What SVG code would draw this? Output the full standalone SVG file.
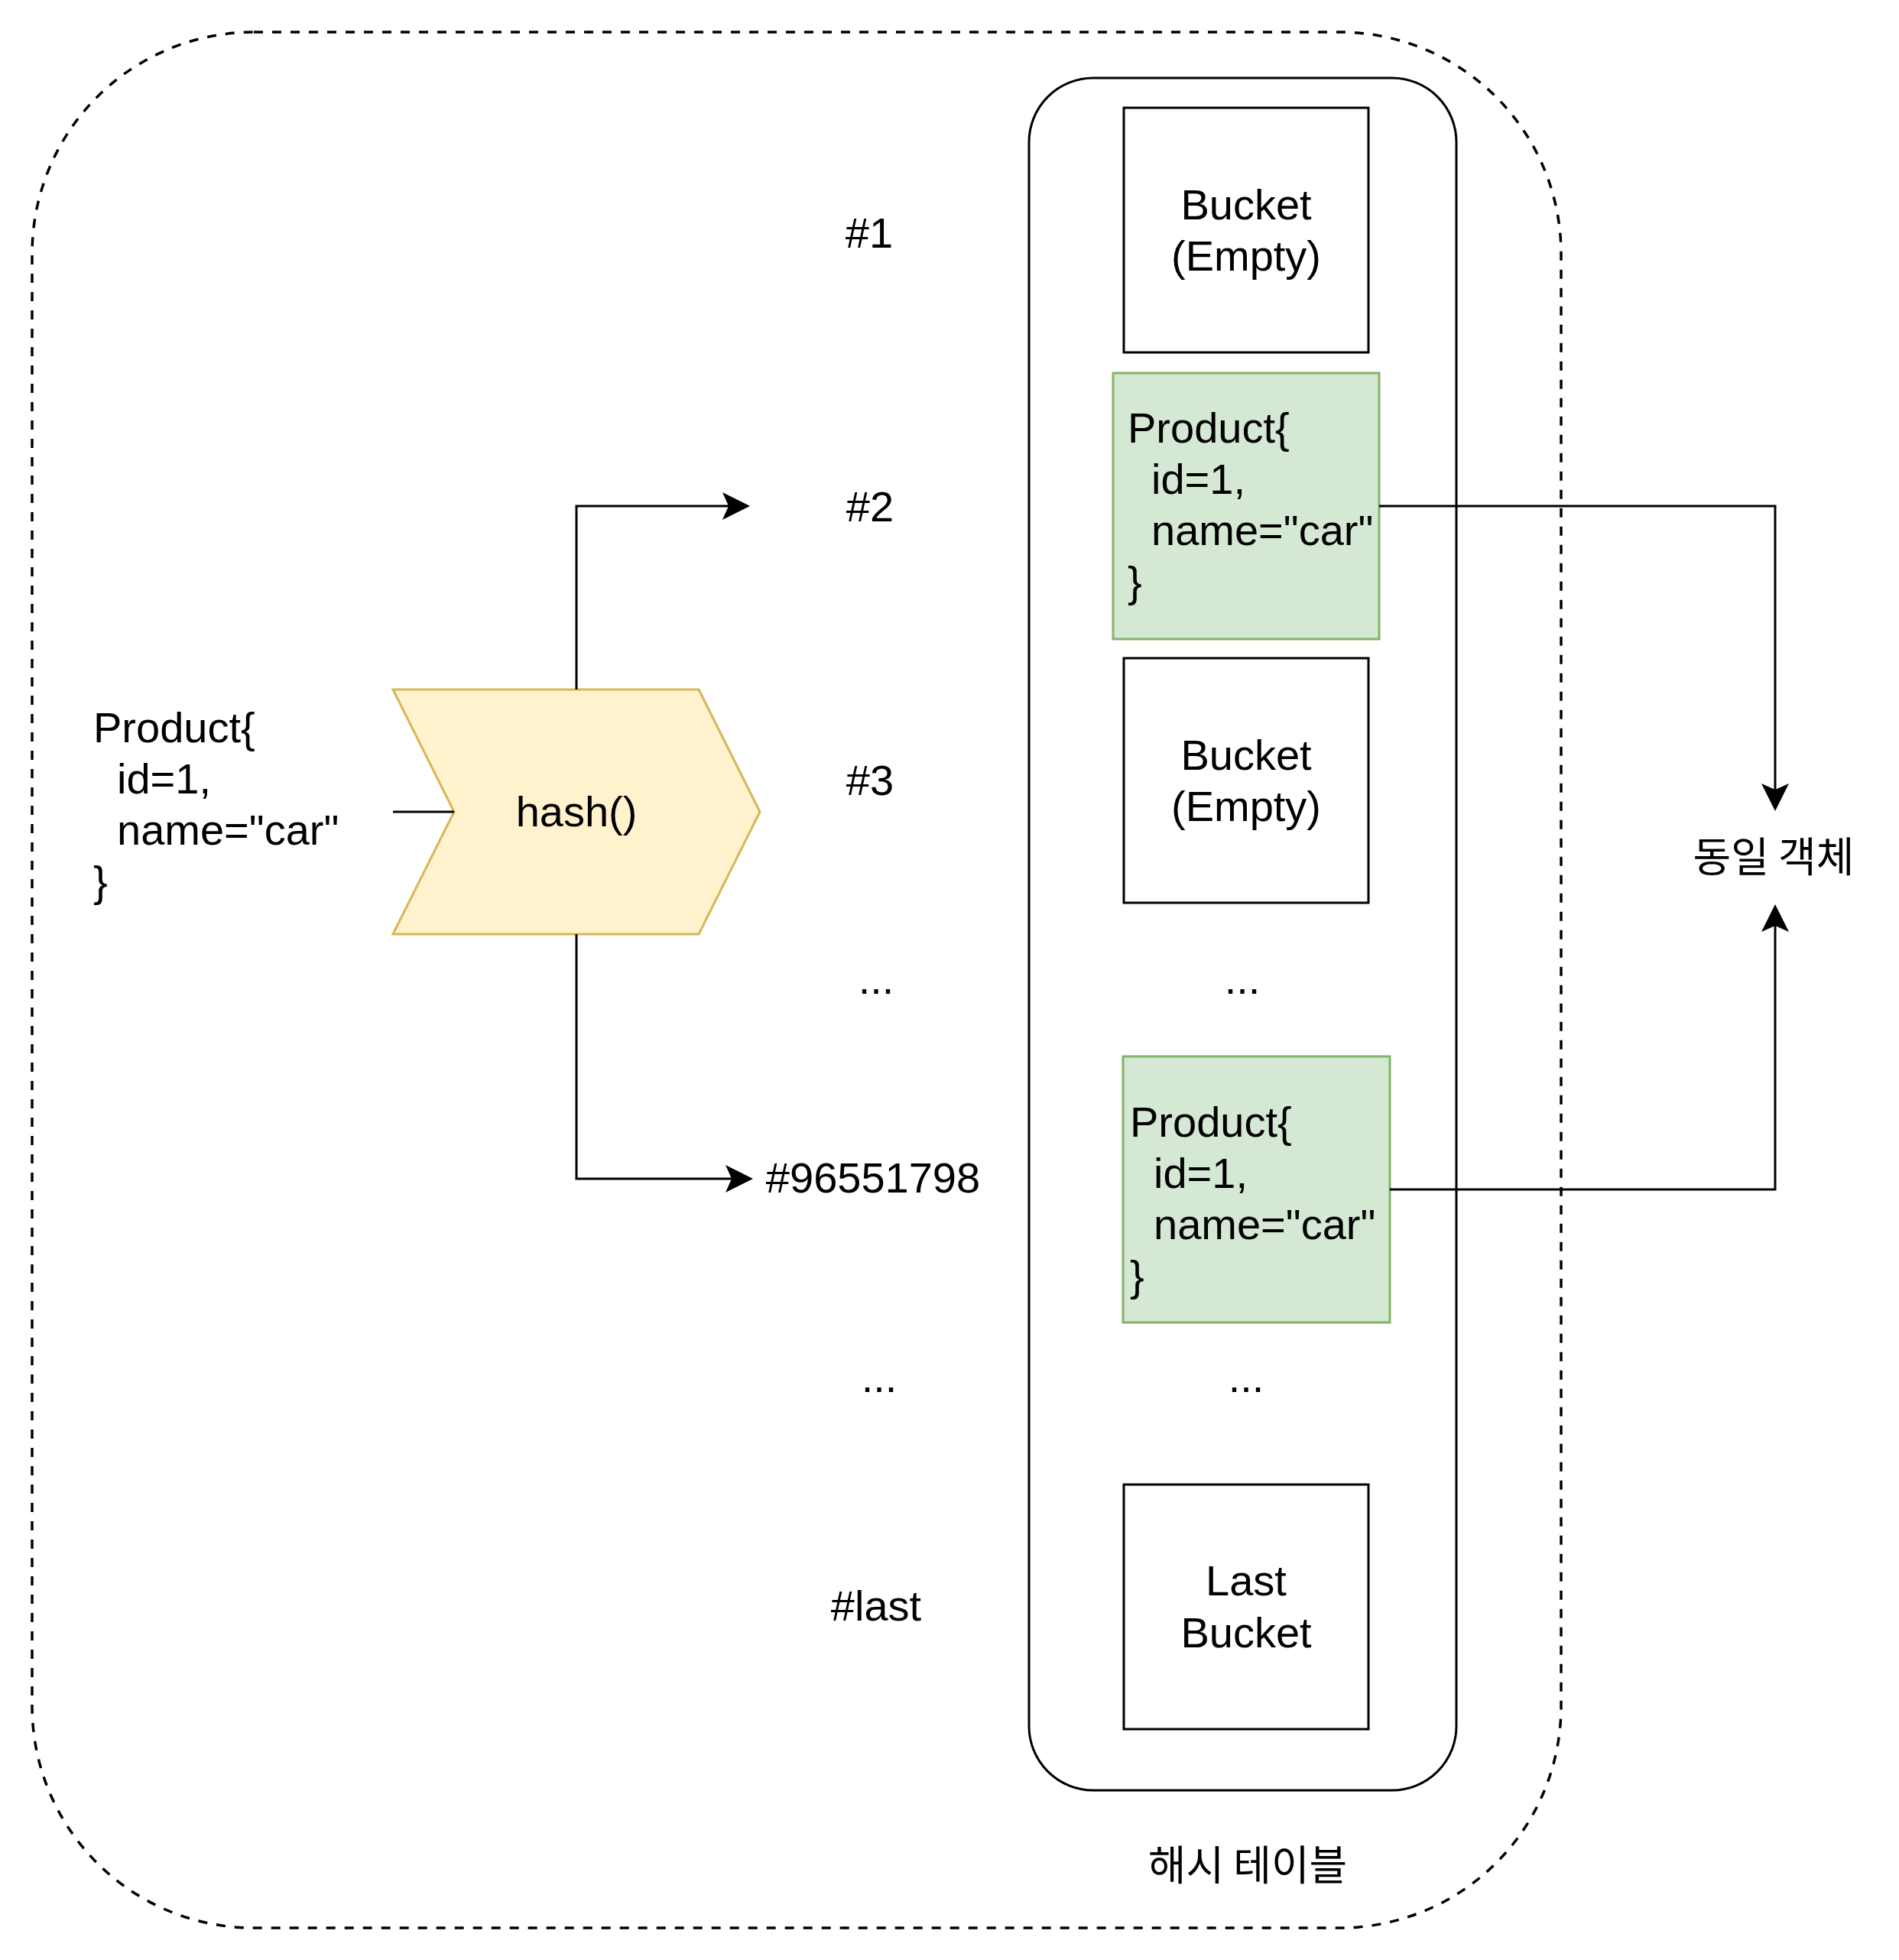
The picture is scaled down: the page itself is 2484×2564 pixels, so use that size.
<svg xmlns="http://www.w3.org/2000/svg" width="2484" height="2564" viewBox="0 0 2484 2564">
<defs>
<marker id="arr" viewBox="0 0 36 36" refX="8" refY="18" markerWidth="36" markerHeight="36" markerUnits="userSpaceOnUse" orient="auto">
<path d="M0,0 L36,18 L0,36 L8,18 Z" fill="#000"/>
</marker>
<style>
.t{font-family:"Liberation Sans",Arial,Helvetica,sans-serif;font-size:56px;fill:#000}
.c{text-anchor:middle}
.k{font-family:"Noto Sans CJK KR","Liberation Sans",sans-serif;font-size:54px;fill:#000;text-anchor:middle}
.box{fill:#fff;stroke:#000;stroke-width:3}
.green{fill:#d5e8d4;stroke:#82b366;stroke-width:3}
.edge{fill:none;stroke:#000;stroke-width:3}
</style>
</defs>
<rect width="2484" height="2564" fill="#fff"/>
<g id="outer">
<rect x="42" y="42" width="2000" height="2480" rx="290" ry="290" fill="none" stroke="#000" stroke-width="3.5" stroke-dasharray="12 12"/>
</g>
<g id="hashtable">
<rect x="1346" y="102" width="559" height="2240" rx="84" ry="84" class="box"/>
<text class="k" x="1632" y="2460">해시 테이블</text>
</g>
<g id="bucket1">
<rect x="1470" y="141" width="320" height="320" class="box"/>
<text class="t c" x="1630" y="287">Bucket</text>
<text class="t c" x="1630" y="354">(Empty)</text>
</g>
<g id="bucket2">
<rect x="1456" y="488" width="348" height="348" class="green"/>
<text class="t" x="1475" y="579">Product{</text>
<text class="t" x="1506" y="646">id=1,</text>
<text class="t" x="1506" y="713">name="car"</text>
<text class="t" x="1475" y="780">}</text>
</g>
<g id="bucket3">
<rect x="1470" y="861" width="320" height="320" class="box"/>
<text class="t c" x="1630" y="1007">Bucket</text>
<text class="t c" x="1630" y="1074">(Empty)</text>
</g>
<g id="dots1">
<text class="t c" x="1625" y="1300">...</text>
</g>
<g id="bucketN">
<rect x="1469" y="1382" width="349" height="348" class="green"/>
<text class="t" x="1478" y="1487">Product{</text>
<text class="t" x="1509" y="1554">id=1,</text>
<text class="t" x="1509" y="1621">name="car"</text>
<text class="t" x="1478" y="1688">}</text>
</g>
<g id="dots2">
<text class="t c" x="1630" y="1821">...</text>
</g>
<g id="bucketLast">
<rect x="1470" y="1942" width="320" height="320" class="box"/>
<text class="t c" x="1630" y="2087">Last</text>
<text class="t c" x="1630" y="2155">Bucket</text>
</g>
<g id="labels">
<text class="t c" x="1137" y="324">#1</text>
<text class="t c" x="1138" y="682">#2</text>
<text class="t c" x="1138" y="1040">#3</text>
<text class="t c" x="1146" y="1300">...</text>
<text class="t c" x="1142" y="1560">#96551798</text>
<text class="t c" x="1150" y="1821">...</text>
<text class="t c" x="1146" y="2120">#last</text>
</g>
<g id="product">
<text class="t" x="122" y="971">Product{</text>
<text class="t" x="153" y="1038">id=1,</text>
<text class="t" x="153" y="1105">name="car"</text>
<text class="t" x="122" y="1172">}</text>
</g>
<g id="hash">
<polygon points="514,902 914,902 994,1062 914,1222 514,1222 594,1062" fill="#fff2cc" stroke="#d6b656" stroke-width="3"/>
<text class="t c" x="754" y="1081">hash()</text>
</g>
<g id="same">
<text class="k" x="2320" y="1141">동일 객체</text>
</g>
<g id="connectors">
<path class="edge" d="M514,1062 H594"/>
<path class="edge" d="M754,902 V662 H953" marker-end="url(#arr)"/>
<path class="edge" d="M754,1222 V1542 H957" marker-end="url(#arr)"/>
<path class="edge" d="M1804,662 H2322 V1033" marker-end="url(#arr)"/>
<path class="edge" d="M1818,1556 H2322 V1211" marker-end="url(#arr)"/>
</g>
</svg>
